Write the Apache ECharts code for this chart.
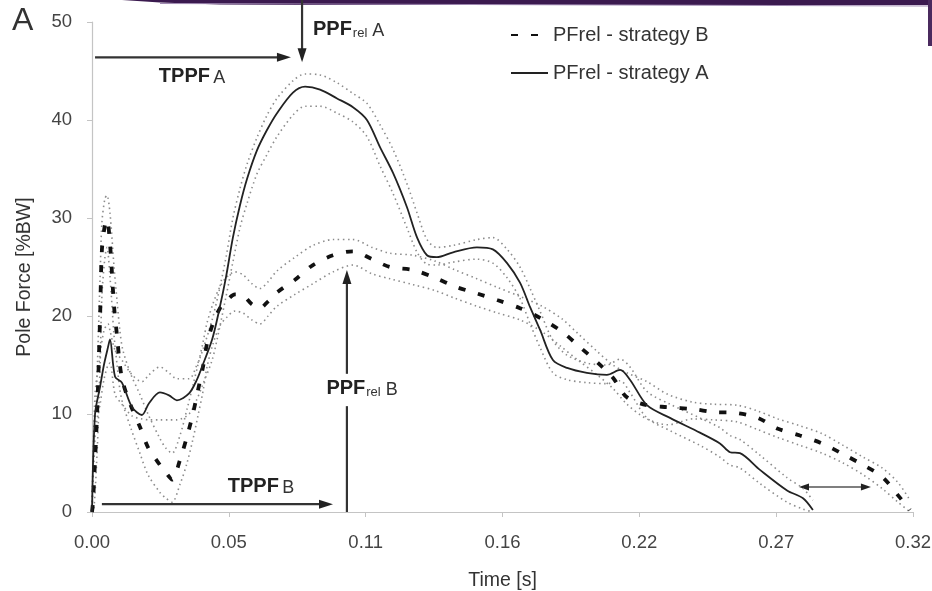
<!DOCTYPE html>
<html>
<head>
<meta charset="utf-8">
<script src="https://cdn.jsdelivr.net/npm/echarts@6/dist/echarts.min.js"></script>
<style>
  html, body { margin: 0; padding: 0; background: #fff; }
  #chart { width: 932px; height: 591px; }
</style>
</head>
<body>
<div id="chart"></div>
<script>
// time [s] and pole force [%BW]
const aTime = [0, 0.0012, 0.0032, 0.0047, 0.0063, 0.0071, 0.0091, 0.0118, 0.0158, 0.0197, 0.0225, 0.0268, 0.0304, 0.0335, 0.0383, 0.0414, 0.0434, 0.0474, 0.0501, 0.0529, 0.0556, 0.0584, 0.0612, 0.0651, 0.0691, 0.0730, 0.0793, 0.0841, 0.0900, 0.0967, 0.1030, 0.1085, 0.1137, 0.1188, 0.1243, 0.1283, 0.1322, 0.1361, 0.1425, 0.1519, 0.1582, 0.1638, 0.1689, 0.1729, 0.1768, 0.1819, 0.1875, 0.1953, 0.2032, 0.2084, 0.2123, 0.2190, 0.2281, 0.2399, 0.2478, 0.2518, 0.2557, 0.2636, 0.2743, 0.2806, 0.2845];
const aMean = [0, 10, 12.8, 15, 16.8, 17.6, 13.8, 13.2, 10.7, 9.9, 11.1, 12.2, 11.9, 11.4, 12.1, 13.5, 14.8, 17.6, 20.5, 24, 28, 31.3, 34, 36.9, 39, 40.7, 42.8, 43.4, 43.1, 42.2, 41.3, 40, 37.2, 34.6, 31.1, 28, 26.2, 26, 26.5, 27, 26.8, 25.4, 23.4, 20.9, 18.6, 15.5, 14.7, 14.2, 14.0, 14.5, 13.5, 10.9, 9.6, 8.1, 7, 6.1, 6, 4.3, 2.2, 1.4, 0.2];
const aUpper = [0, 12, 16, 18.5, 19.2, 18.5, 16.5, 15.5, 14, 13.3, 14, 14.8, 14.2, 13.6, 13.6, 15, 16.3, 19.6, 22.5, 26, 30, 33, 35.5, 38.2, 40.5, 42.2, 44, 44.7, 44.6, 43.8, 42.7, 41.7, 39.5, 37, 33.5, 30.5, 27.8, 27, 27.2, 27.8, 28, 26.8, 25, 22.8, 20.5, 17.5, 16, 15.2, 15, 15.6, 14.8, 12.3, 11, 9.6, 8.6, 7.8, 7.4, 5.8, 3.5, 2.4, 1.2];
const aLower = [0, 8, 11, 13.5, 15, 15.2, 12, 11, 9.8, 9.5, 9.4, 9.4, 9.4, 9.4, 10, 11.5, 12.8, 15.5, 18.5, 22, 25.5, 29, 31.5, 34.5, 36.5, 38.3, 40.5, 41.4, 41.4, 40.7, 39.8, 38.3, 35.3, 32.5, 29, 26.5, 25.3, 25.2, 25.5, 25.8, 25.4, 23.9, 21.8, 19.2, 16.8, 14.2, 13.5, 13.2, 13.1, 13.4, 12.2, 9.6, 8.3, 6.8, 5.6, 4.8, 4.5, 2.9, 1.0, 0.3, 0];

const bTime = [0, 0.0004, 0.0020, 0.0032, 0.0039, 0.0051, 0.0059, 0.0071, 0.0087, 0.0099, 0.0110, 0.0122, 0.0154, 0.0189, 0.0221, 0.0268, 0.0292, 0.0316, 0.0347, 0.0375, 0.0399, 0.0418, 0.0438, 0.0454, 0.0478, 0.0505, 0.0533, 0.0564, 0.0596, 0.0631, 0.0663, 0.0695, 0.0730, 0.0801, 0.0872, 0.0951, 0.1030, 0.1105, 0.1176, 0.1267, 0.1354, 0.1433, 0.1519, 0.1602, 0.1689, 0.1776, 0.1855, 0.1918, 0.1993, 0.2056, 0.2111, 0.2190, 0.2273, 0.2372, 0.2451, 0.2545, 0.2628, 0.2707, 0.2794, 0.2881, 0.2964, 0.3043, 0.3118, 0.3181, 0.3228];
const bMean = [0, 1, 10, 20, 26.7, 29.3, 29.8, 27.4, 21, 17.9, 15, 13.2, 10.8, 8.7, 6.6, 4.8, 4, 3.3, 5.3, 7.7, 10.1, 12.4, 14.8, 17.2, 19.3, 20.8, 21.6, 22.2, 22.1, 21.2, 20.8, 21.5, 22.4, 23.7, 25.2, 26.2, 26.6, 25.8, 25, 24.7, 23.9, 23, 22.3, 21.6, 20.8, 19.7, 18.4, 17, 15.3, 13.7, 11.7, 10.9, 10.7, 10.5, 10.2, 10.1, 9.6, 8.5, 7.8, 7, 5.9, 4.8, 3.6, 1.7, 0.2];
const bUpper = [0, 3, 14, 24, 29.5, 32, 32.3, 30.5, 25, 21.5, 18.5, 16.5, 14, 12, 10, 7.5, 6.5, 6, 7.8, 10.5, 13, 15, 17.3, 19.3, 21.3, 23, 24, 24.5, 24.2, 23.3, 22.8, 23.5, 24.6, 26, 27.2, 27.8, 27.8, 27, 26.4, 26.2, 25.6, 24.7, 23.8, 22.9, 22, 21, 19.7, 18.2, 16.4, 15, 14.2, 13.3, 12, 11.2, 11, 10.9, 10.3, 9.5, 8.8, 8, 6.8, 5.6, 4.5, 3, 1.2];
const bLower = [0, 0, 6, 15, 22, 26, 27, 24, 18, 15, 12.5, 11, 8.5, 6, 3.8, 2, 1.4, 1, 2.8, 5, 7.5, 9.8, 12.3, 14.8, 17.2, 19, 19.9, 20.5, 20.3, 19.6, 19.2, 20, 21, 22.2, 23.3, 24.5, 25.2, 24.3, 23.8, 23.2, 22.6, 21.8, 21, 20.3, 19.6, 18.4, 16.8, 15.5, 14, 12.6, 11, 9.5, 8.9, 9.5, 9.4, 9.2, 8.4, 7.6, 6.8, 6, 5, 3.8, 2.4, 1, 0];

const xTickLabels = ['0.00', '0.05', '0.11', '0.16', '0.22', '0.27', '0.32'];
const xStep = 0.054;

const pair = (t, v) => t.map((x, i) => [x, v[i]]);

const chart = echarts.init(document.getElementById('chart'));
const FONT = '"Liberation Sans", Arial, sans-serif';

const sdStyle = { color: '#8c8c8c', width: 1.6, type: [1.5, 3.5] };
const sdSeries = (name, t, v) => ({
  name: name, type: 'line', data: pair(t, v), symbol: 'none', smooth: 0.3,
  lineStyle: sdStyle, itemStyle: { color: '#8c8c8c' }, z: 2, silent: true
});

chart.setOption({
  animation: false,
  grid: { left: 92, right: 19, top: 22, bottom: 79, outerBoundsMode: 'none' },
  legend: {
    data: ['PFrel - strategy B', 'PFrel - strategy A'],
    orient: 'vertical', left: 505, top: 20, itemGap: 18,
    itemWidth: 37, itemHeight: 14,
    itemStyle: { opacity: 0 },
    textStyle: { fontSize: 20, color: '#333', fontFamily: FONT }
  },
  xAxis: {
    type: 'value', min: 0, max: 0.324, interval: xStep,
    name: 'Time [s]', nameLocation: 'middle', nameGap: 59,
    nameTextStyle: { fontSize: 19.5, color: '#333', fontFamily: FONT },
    axisLine: { lineStyle: { color: '#c4c4c4', width: 1.2 } },
    axisTick: { show: true, length: 5, lineStyle: { color: '#c4c4c4' } },
    axisLabel: {
      fontSize: 18.5, color: '#444', fontFamily: FONT, margin: 21,
      formatter: v => xTickLabels[Math.round(v / xStep)]
    },
    splitLine: { show: false }
  },
  yAxis: {
    type: 'value', min: 0, max: 50, interval: 10,
    name: 'Pole Force [%BW]', nameLocation: 'middle', nameGap: 57,
    nameTextStyle: { fontSize: 19.5, color: '#333', fontFamily: FONT, padding: [0, 20, 0, 0] },
    axisLine: { show: true, lineStyle: { color: '#c4c4c4', width: 1.2 } },
    axisTick: { show: true, length: 5, lineStyle: { color: '#c4c4c4' } },
    axisLabel: { fontSize: 18.5, color: '#444', fontFamily: FONT, margin: 20 },
    splitLine: { show: false }
  },
  series: [
    sdSeries('A+SD', aTime, aUpper),
    sdSeries('A-SD', aTime, aLower),
    sdSeries('B+SD', bTime, bUpper),
    sdSeries('B-SD', bTime, bLower),
    {
      name: 'PFrel - strategy B', type: 'line', data: pair(bTime, bMean),
      symbol: 'none', smooth: 0.3, z: 4,
      lineStyle: { color: '#111', width: 3.8, type: [7, 13] },
      itemStyle: { color: '#111' }
    },
    {
      name: 'PFrel - strategy A', type: 'line', data: pair(aTime, aMean),
      symbol: 'none', smooth: 0.3, z: 5,
      lineStyle: { color: '#222', width: 1.8 },
      itemStyle: { color: '#222' }
    }
  ]
});

// annotations, placed in data coordinates
const px = (t, v) => chart.convertToPixel({ xAxisIndex: 0, yAxisIndex: 0 }, [t, v]);

function arrow(p1, p2, head1, head2, thin) {
  const els = [];
  const dx = p2[0] - p1[0], dy = p2[1] - p1[1];
  const d = Math.hypot(dx, dy), ux = dx / d, uy = dy / d;
  const len = thin ? 10 : 14, half = thin ? 3.5 : 4.5;
  const a = head1 ? [p1[0] + ux * len * 0.8, p1[1] + uy * len * 0.8] : p1;
  const b = head2 ? [p2[0] - ux * len * 0.8, p2[1] - uy * len * 0.8] : p2;
  els.push({ type: 'line', shape: { x1: a[0], y1: a[1], x2: b[0], y2: b[1] },
    style: { stroke: thin ? '#555' : '#333', lineWidth: thin ? 1.5 : 2.2 }, silent: true });
  const head = (tip, sx, sy) => {
    const bx = tip[0] - sx * len, by = tip[1] - sy * len;
    return { type: 'polygon', silent: true, style: { fill: '#222' },
      shape: { points: [tip, [bx - sy * half, by + sx * half], [bx + sy * half, by - sx * half]] } };
  };
  if (head1) els.push(head(p1, -ux, -uy));
  if (head2) els.push(head(p2, ux, uy));
  return els;
}

function label(p, text, align) {
  return {
    type: 'text', x: p[0], y: p[1], silent: true,
    style: {
      text: text, align: align || 'left', verticalAlign: 'middle', fontFamily: FONT,
      rich: {
        b: { fontSize: 20, fontWeight: 'bold', fill: '#222', fontFamily: FONT },
        s: { fontSize: 13, fill: '#333', fontFamily: FONT, padding: [8, 0, 0, 1] },
        n: { fontSize: 18, fill: '#333', fontFamily: FONT, padding: [3, 0, 0, 0] }
      }
    }
  };
}

const g = [];
// slide decoration
g.push({ type: 'polygon', silent: true, style: { fill: '#3b1a4f' },
  shape: { points: [[122, 0], [932, 0], [932, 5], [300, 5], [220, 4.5], [160, 2.5]] } });
g.push({ type: 'line', silent: true, shape: { x1: 160, y1: 3.5, x2: 932, y2: 6 },
  style: { stroke: '#a08ab2', lineWidth: 1.2 } });
g.push({ type: 'rect', silent: true, shape: { x: 928, y: 0, width: 4, height: 46 },
  style: { fill: '#4a2a5e' } });
g.push({ type: 'text', x: 12, y: 5, silent: true,
  style: { text: 'A', fontSize: 32, fill: '#333', fontFamily: FONT } });

// TPPF A
g.push(...arrow(px(0.0012, 46.4), px(0.0785, 46.4), false, true));
g.push(label(px(0.0395, 44.4), '{b|TPPF} {n|A}', 'center'));
// PPFrel A
g.push(...arrow(px(0.0829, 52.4), px(0.0829, 45.9), false, true));
g.push(label(px(0.0872, 49.2), '{b|PPF}{s|rel}{n| A}'));
// PPFrel B (arrow broken by its label)
g.push(...arrow(px(0.1006, 14.1), px(0.1006, 24.7), false, true));
g.push({ type: 'line', silent: true, shape: (() => { const a = px(0.1006, 0), b = px(0.1006, 10.8); return { x1: a[0], y1: a[1], x2: b[0], y2: b[1] }; })(),
  style: { stroke: '#333', lineWidth: 2.2 } });
g.push(label(px(0.0925, 12.6), '{b|PPF}{s|rel}{n| B}'));
// TPPF B
g.push(...arrow(px(0.0039, 0.8), px(0.0951, 0.8), false, true));
g.push(label(px(0.0667, 2.6), '{b|TPPF} {n|B}', 'center'));
// end-time difference
g.push(...arrow(px(0.2790, 2.55), px(0.3074, 2.55), true, true, true));

chart.setOption({ graphic: g });
</script>
</body>
</html>
